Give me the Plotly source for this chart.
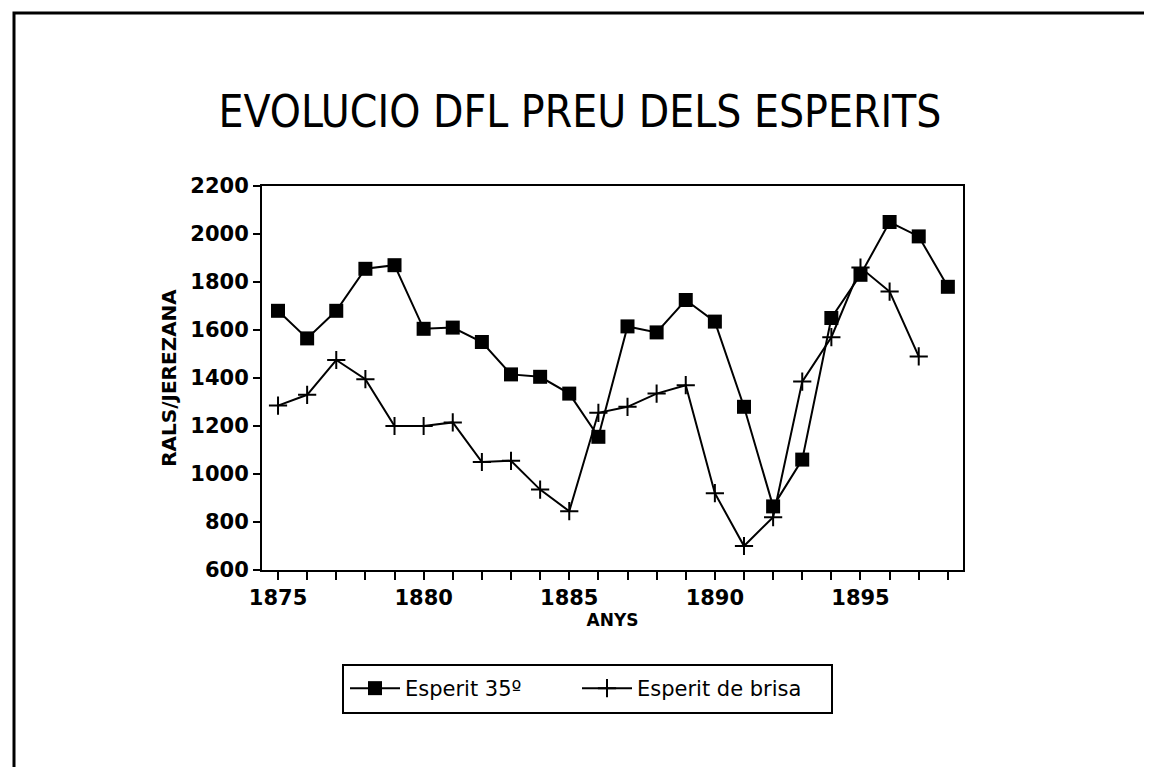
import plotly.graph_objects as go

# Dades llegides del gràfic
anys_35 = list(range(1875, 1899))
esperit_35 = [1680, 1565, 1680, 1855, 1870, 1605, 1610, 1550, 1415, 1405, 1335,
              1155, 1615, 1590, 1725, 1635, 1280, 865, 1060, 1650, 1830, 2050, 1990, 1780]

anys_brisa = list(range(1875, 1898))
esperit_brisa = [1285, 1330, 1475, 1395, 1200, 1200, 1215, 1050, 1055, 935, 845,
                 1255, 1280, 1335, 1370, 920, 700, 820, 1385, 1570, 1860, 1760, 1490]

titol = "EVOLUCIO DFL PREU DELS ESPERITS"
eix_x = "ANYS"
eix_y = "RALS/JEREZANA"

W, H = 1152, 767
OFF = 8  # marge del body de la pàgina
L, R, T, B = 262 - OFF, 963 - OFF, 186 - OFF, 570 - OFF

def px_x(p):
    return (p - OFF - L) / (R - L)

def px_y(p):
    return (B - (p - OFF)) / (B - T)

fig = go.Figure()

fig.add_trace(go.Scatter(
    x=anys_35, y=esperit_35, name="Esperit 35º", mode="lines+markers",
    line=dict(color="black", width=2),
    marker=dict(symbol="square", size=14, color="black"),
))
fig.add_trace(go.Scatter(
    x=anys_brisa, y=esperit_brisa, name="Esperit de brisa", mode="lines+markers",
    line=dict(color="black", width=2),
    marker=dict(symbol="cross-thin", size=13, color="black",
                line=dict(color="black", width=2)),
))

fig.update_layout(
    width=W, height=H,
    margin=dict(l=L, r=W - R, t=T, b=H - B, pad=0),
    paper_bgcolor="white", plot_bgcolor="white",
    font=dict(family="DejaVu Sans, Arial, sans-serif", color="black", size=19),
    title=dict(text=titol, x=(580 - OFF) / W, xref="container", xanchor="center",
               y=1 - (112 - OFF) / H, yref="container", yanchor="middle",
               font=dict(family="DejaVu Sans Condensed, Liberation Sans Narrow, sans-serif",
                         size=44, color="black")),
    showlegend=True,
    legend=dict(orientation="h", x=px_x(345), y=px_y(668), xanchor="left", yanchor="top",
                borderwidth=0, bgcolor="rgba(0,0,0,0)",
                font=dict(size=21), itemwidth=50, entrywidth=167,
                tracegroupgap=0),
    shapes=[
        # marc exterior
        dict(type="rect", xref="paper", yref="paper",
             x0=px_x(14), x1=px_x(1175), y0=px_y(800), y1=px_y(13),
             line=dict(color="black", width=3), fillcolor="rgba(0,0,0,0)",
             layer="below"),
        # caixa de la llegenda
        dict(type="rect", xref="paper", yref="paper",
             x0=px_x(343), x1=px_x(832), y0=px_y(713), y1=px_y(665),
             line=dict(color="black", width=2), fillcolor="rgba(0,0,0,0)",
             layer="below"),
    ],
)

fig.update_xaxes(
    range=[1874.45, 1898.52], tickmode="linear", tick0=1875, dtick=5,
    ticks="outside", ticklen=8, tickwidth=2, tickcolor="black",
    minor=dict(tick0=1875, dtick=1, ticks="outside", ticklen=8, tickwidth=2, tickcolor="black"),
    showline=True, linecolor="black", linewidth=2, mirror=True,
    showgrid=False, zeroline=False,
    tickfont=dict(size=21, weight="bold"),
    title=dict(text="<b>" + eix_x + "</b>", font=dict(size=17), standoff=4),
)
fig.update_yaxes(
    range=[600, 2200], tickmode="linear", tick0=600, dtick=200,
    ticks="outside", ticklen=7, tickwidth=2, tickcolor="black",
    showline=True, linecolor="black", linewidth=2, mirror=True,
    showgrid=False, zeroline=False,
    tickfont=dict(size=21, weight="bold"),
    title=dict(text="<b>" + eix_y + "</b>", font=dict(size=20), standoff=8),
)

fig.write_html("out.html")
